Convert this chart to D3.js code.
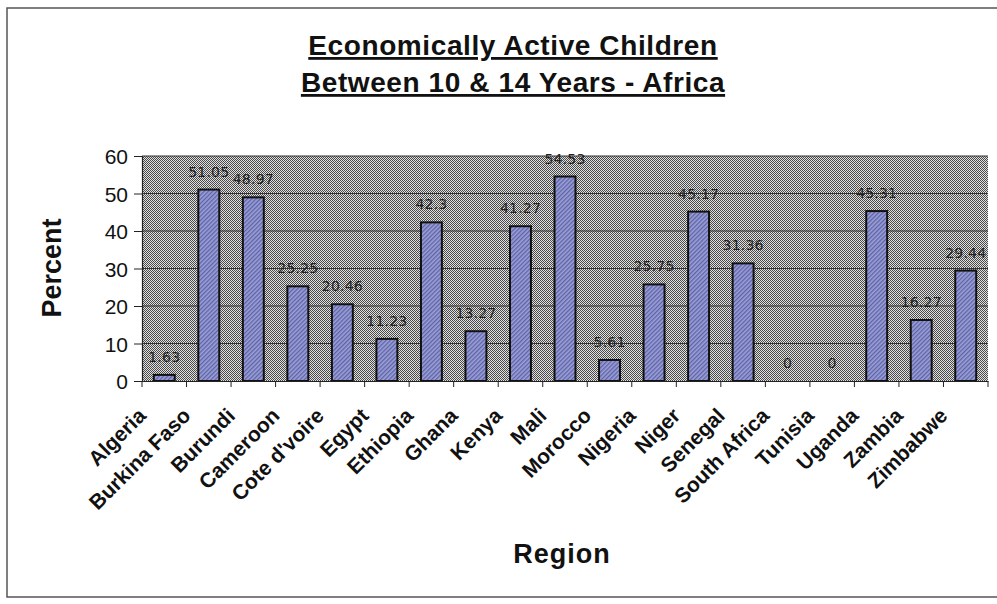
<!DOCTYPE html>
<html><head><meta charset="utf-8">
<script src="https://cdn.jsdelivr.net/npm/d3@7/dist/d3.min.js"></script>
<style>
html,body{margin:0;padding:0;background:#fff;}
svg{display:block;}
</style></head>
<body>
<svg id="chart" width="997" height="604"></svg>
<script>
const categories = ["Algeria","Burkina Faso","Burundi","Cameroon","Cote d'voire","Egypt","Ethiopia","Ghana","Kenya","Mali","Morocco","Nigeria","Niger","Senegal","South Africa","Tunisia","Uganda","Zambia","Zimbabwe"];
const values = [1.63,51.05,48.97,25.25,20.46,11.23,42.3,13.27,41.27,54.53,5.61,25.75,45.17,31.36,0,0,45.31,16.27,29.44];
const valueLabels = ["1.63","51.05","48.97","25.25","20.46","11.23","42.3","13.27","41.27","54.53","5.61","25.75","45.17","31.36","0","0","45.31","16.27","29.44"];
const yTicks = [0,10,20,30,40,50,60];
const titleLines = ["Economically Active Children","Between 10 & 14 Years - Africa"];
const xTitle = "Region";
const yTitle = "Percent";

const svg = d3.select("#chart");
const defs = svg.append("defs");

// stipple background pattern
const pBg = defs.append("pattern").attr("id","stipple").attr("width",2).attr("height",2).attr("patternUnits","userSpaceOnUse");
pBg.append("rect").attr("width",2).attr("height",2).attr("fill","#e0e0e0");
pBg.append("rect").attr("x",0).attr("y",0).attr("width",1).attr("height",1).attr("fill","#4a4a4a");
pBg.append("rect").attr("x",1).attr("y",1).attr("width",1).attr("height",1).attr("fill","#4a4a4a");

// bar hatch pattern
const pBar = defs.append("pattern").attr("id","hatch").attr("width",3).attr("height",3).attr("patternUnits","userSpaceOnUse").attr("patternTransform","rotate(45)");
pBar.append("rect").attr("width",3).attr("height",3).attr("fill","#9ba0da");
pBar.append("rect").attr("width",1.3).attr("height",3).attr("fill","#5d62a3");

// outer frame
svg.append("rect").attr("x",7).attr("y",8).attr("width",1000).attr("height",589)
  .attr("fill","none").attr("stroke","#555").attr("stroke-width",1.5);

const plot = {left:142, right:988, top:156, bottom:381};

const x = d3.scaleBand().domain(categories).range([plot.left, plot.right]).paddingInner(0.53).paddingOuter(0.265);
const y = d3.scaleLinear().domain([0,60]).range([plot.bottom, plot.top]);

// plot background
svg.append("rect").attr("x",plot.left).attr("y",plot.top).attr("width",plot.right-plot.left).attr("height",plot.bottom-plot.top)
  .attr("fill","url(#stipple)");

// gridlines
svg.append("g").selectAll("line").data(yTicks.filter(d=>d>0)).join("line")
  .attr("x1",plot.left).attr("x2",plot.right).attr("y1",d=>y(d)).attr("y2",d=>y(d))
  .attr("stroke","#333").attr("stroke-width",1);

// bars
svg.append("g").selectAll("rect").data(values).join("rect")
  .attr("x",(d,i)=>x(categories[i]))
  .attr("y",d=>y(d))
  .attr("width",x.bandwidth())
  .attr("height",d=>plot.bottom-y(d))
  .attr("fill","url(#hatch)")
  .attr("stroke","#111").attr("stroke-width",2)
  .attr("display",d=>d>0?null:"none");

// value labels
svg.append("g").selectAll("text").data(values).join("text")
  .attr("x",(d,i)=>x(categories[i])+x.bandwidth()/2)
  .attr("y",d=>y(d)-13)
  .attr("text-anchor","middle")
  .attr("font-family","DejaVu Sans, sans-serif")
  .attr("font-size",14)
  .attr("letter-spacing",0.2)
  .attr("fill","#222")
  .text((d,i)=>valueLabels[i]);

// y axis
const yAxis = d3.axisLeft(y).tickValues(yTicks).tickSize(8).tickPadding(6);
const gy = svg.append("g").attr("transform",`translate(${plot.left},0)`).call(yAxis);
gy.select(".domain").attr("stroke","#222").attr("stroke-width",1.2);
gy.selectAll(".tick line").attr("stroke","#222");
gy.selectAll(".tick text").attr("font-family","Liberation Sans, Arial, sans-serif").attr("font-size",21).attr("fill","#111")
  .attr("dy","0.36em");

// x axis
const xAxis = d3.axisBottom(x).tickSize(0).tickFormat("");
const gx = svg.append("g").attr("transform",`translate(0,${plot.bottom})`).call(xAxis);
gx.select(".domain").attr("stroke","#222").attr("stroke-width",1.2);
// boundary ticks
const step = x.step();
const bounds = d3.range(categories.length+1).map(i=>plot.left + i*step);
svg.append("g").selectAll("line").data(bounds).join("line")
  .attr("x1",d=>d).attr("x2",d=>d).attr("y1",plot.bottom).attr("y2",plot.bottom+6)
  .attr("stroke","#222");

// category labels
svg.append("g").selectAll("text").data(categories).join("text")
  .attr("transform",d=>`translate(${x(d)+x.bandwidth()/2-17},${plot.bottom+36}) rotate(-45)`)
  .attr("text-anchor","end")
  .attr("font-family","Liberation Sans, Arial, sans-serif")
  .attr("font-weight","bold")
  .attr("font-size",21)
  .attr("fill","#111")
  .text(d=>d);

// title
const tg = svg.append("g");
titleLines.forEach((t,i)=>{
  tg.append("text").attr("x",513).attr("y",55+i*37)
    .attr("text-anchor","middle")
    .attr("font-family","Liberation Sans, Arial, sans-serif")
    .attr("font-weight","bold").attr("font-size",28)
    .attr("letter-spacing",0.6)
    .attr("text-decoration","underline")
    .attr("fill","#111")
    .text(t);
});

// axis titles
svg.append("text").attr("x",562).attr("y",563).attr("text-anchor","middle")
  .attr("font-family","Liberation Sans, Arial, sans-serif").attr("font-weight","bold").attr("font-size",27)
  .attr("letter-spacing",1).attr("fill","#111").text(xTitle);
svg.append("text").attr("transform","translate(61,268) rotate(-90)").attr("text-anchor","middle")
  .attr("font-family","Liberation Sans, Arial, sans-serif").attr("font-weight","bold").attr("font-size",27)
  .attr("fill","#111").text(yTitle);
</script>
</body></html>
